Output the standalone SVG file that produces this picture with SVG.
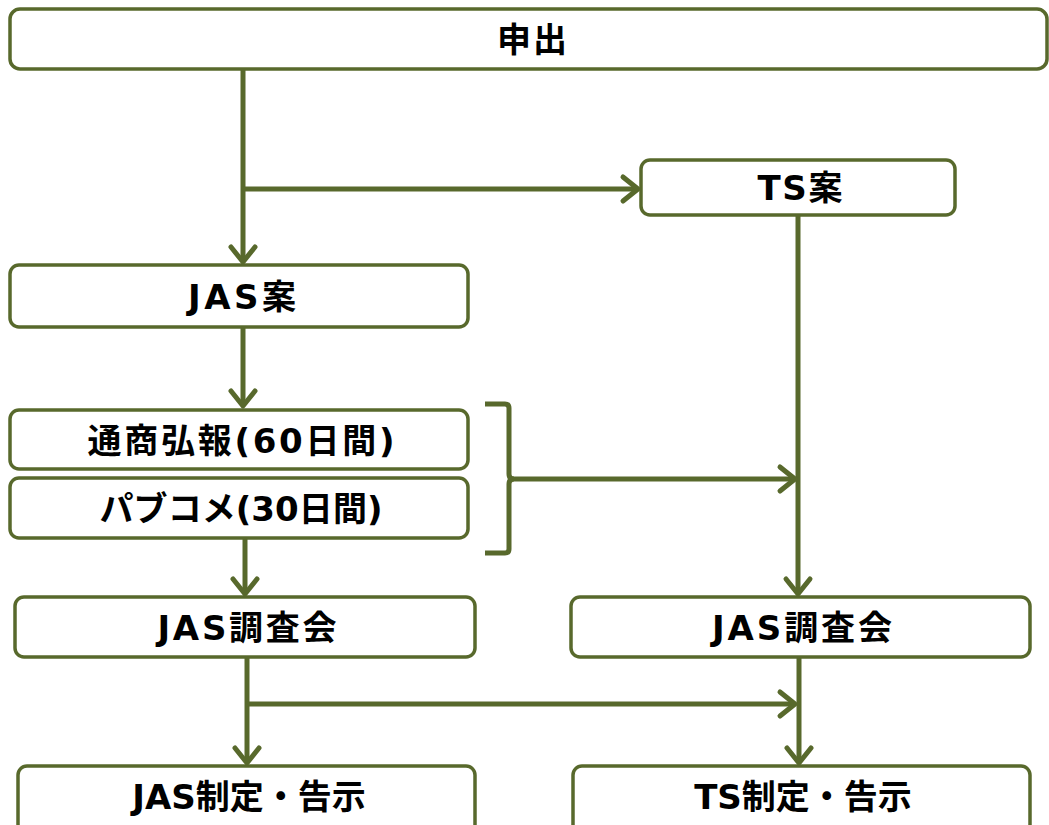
<svg xmlns="http://www.w3.org/2000/svg" width="1049" height="825" viewBox="0 0 1049 825">
<defs>
<style>
.box{fill:#fff;stroke:#58692c;stroke-width:3.5}
.ln{fill:none;stroke:#58692c;stroke-width:5;stroke-linecap:butt}
.t{font-family:"DejaVu Sans","Noto Sans CJK JP",sans-serif;font-weight:bold;font-size:34px;fill:#000;text-anchor:middle}
</style>
<marker id="ah" markerUnits="userSpaceOnUse" markerWidth="40" markerHeight="40" viewBox="-20 -20 40 40" refX="0" refY="0" orient="auto">
<path d="M-15,-12 L0,0 L-15,12" fill="none" stroke="#58692c" stroke-width="5" stroke-linecap="round" stroke-linejoin="round"/>
</marker>
</defs>
<rect width="1049" height="825" fill="#fff"/>
<g id="connectors">
<line class="ln" x1="243" y1="70" x2="243" y2="262" marker-end="url(#ah)"/>
<line class="ln" x1="243" y1="189" x2="638" y2="189" marker-end="url(#ah)"/>
<line class="ln" x1="243" y1="328" x2="243" y2="406" marker-end="url(#ah)"/>
<line class="ln" x1="798" y1="216" x2="798" y2="594" marker-end="url(#ah)"/>
<path class="ln" d="M485,404 L505,404 Q509,404 509,408 L509,474 Q509,479 514,479 L795,479" marker-end="url(#ah)"/>
<path class="ln" d="M485,553 L505,553 Q509,553 509,549 L509,484 Q509,479 514,479"/>
<line class="ln" x1="245" y1="539" x2="245" y2="594" marker-end="url(#ah)"/>
<line class="ln" x1="247" y1="658" x2="247" y2="763" marker-end="url(#ah)"/>
<line class="ln" x1="247" y1="704" x2="795" y2="704" marker-end="url(#ah)"/>
<line class="ln" x1="799" y1="658" x2="799" y2="763" marker-end="url(#ah)"/>
</g>
<g id="n-moshide"><rect class="box" x="10" y="9" width="1037" height="60" rx="10"/><text class="t" x="532" y="52" textLength="70">申出</text></g>
<g id="n-tsan"><rect class="box" x="641" y="160" width="314" height="55" rx="9"/><text class="t" x="800" y="200" textLength="85">TS案</text></g>
<g id="n-jasan"><rect class="box" x="10" y="265" width="458" height="62" rx="9"/><text class="t" x="242" y="309" textLength="108">JAS案</text></g>
<g id="n-tsusho"><rect class="box" x="10" y="410" width="458" height="59" rx="9"/><text class="t" x="241" y="453" textLength="307">通商弘報(60日間)</text></g>
<g id="n-pabukome"><rect class="box" x="10" y="478" width="458" height="60" rx="9"/><text class="t" x="241" y="521" textLength="283">パブコメ(30日間)</text></g>
<g id="n-chosa-l"><rect class="box" x="15" y="597" width="460" height="60" rx="9"/><text class="t" x="247" y="640" textLength="179">JAS調査会</text></g>
<g id="n-chosa-r"><rect class="box" x="571" y="597" width="459" height="60" rx="9"/><text class="t" x="802" y="640" textLength="180">JAS調査会</text></g>
<g id="n-jas-seitei"><rect class="box" x="18" y="766" width="457" height="70" rx="9"/><text class="t" x="249" y="809">JAS制定・告示</text></g>
<g id="n-ts-seitei"><rect class="box" x="573" y="766" width="457" height="70" rx="9"/><text class="t" x="803" y="809">TS制定・告示</text></g>
</svg>
